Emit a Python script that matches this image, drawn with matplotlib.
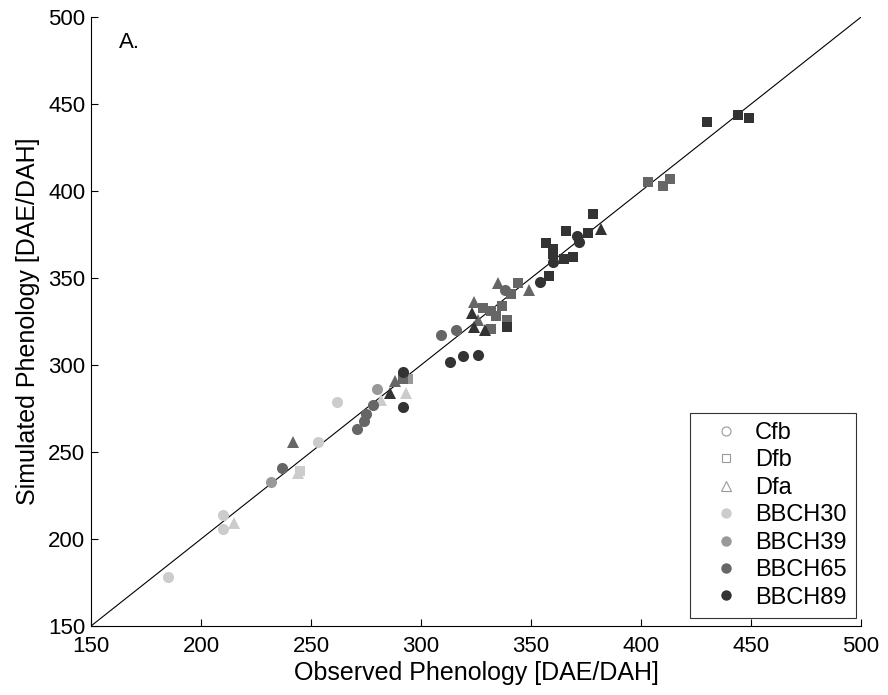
import matplotlib
matplotlib.use("Agg")
import matplotlib.pyplot as plt
from matplotlib.lines import Line2D

plt.rcParams['font.family'] = ['Liberation Sans', 'DejaVu Sans']

# growth stage colours
stage_colors = {
    "BBCH30": "#cccccc",
    "BBCH39": "#999999",
    "BBCH65": "#666666",
    "BBCH89": "#333333",
}

# observed / simulated phenology [DAE/DAH], by stage and climate (marker)
# Cfb = circle, Dfb = square, Dfa = triangle
bbch30_cfb_x = [185, 210, 210, 253, 262]
bbch30_cfb_y = [178, 214, 206, 256, 279]
bbch30_dfa_x = [215, 244, 282, 293]
bbch30_dfa_y = [209, 238, 280, 284]
bbch30_dfb_x = [245]
bbch30_dfb_y = [239]

bbch39_cfb_x = [232, 280]
bbch39_cfb_y = [233, 286]
bbch39_dfb_x = [294]
bbch39_dfb_y = [292]

bbch65_cfb_x = [237, 271, 274, 275, 278, 309, 316, 338]
bbch65_cfb_y = [241, 263, 268, 272, 277, 317, 320, 343]
bbch65_dfa_x = [242, 288, 324, 326, 335, 349]
bbch65_dfa_y = [256, 291, 336, 326, 347, 343]
bbch65_dfb_x = [292, 328, 332, 334, 337, 339, 341, 344, 332, 403, 410, 413]
bbch65_dfb_y = [292, 333, 331, 328, 334, 326, 341, 347, 321, 405, 403, 407]

bbch89_cfb_x = [292, 292, 313, 319, 326, 354, 360, 371, 372]
bbch89_cfb_y = [296, 276, 302, 305, 306, 348, 359, 374, 371]
bbch89_dfa_x = [286, 323, 324, 329, 382]
bbch89_dfa_y = [284, 330, 322, 320, 378]
bbch89_dfb_x = [339, 358, 357, 360, 360, 365, 366, 369, 376, 378, 430, 444, 449]
bbch89_dfb_y = [322, 351, 370, 367, 364, 361, 377, 362, 376, 387, 440, 444, 442]

series = [
    ("BBCH30", "o", bbch30_cfb_x, bbch30_cfb_y),
    ("BBCH30", "^", bbch30_dfa_x, bbch30_dfa_y),
    ("BBCH30", "s", bbch30_dfb_x, bbch30_dfb_y),
    ("BBCH39", "o", bbch39_cfb_x, bbch39_cfb_y),
    ("BBCH39", "s", bbch39_dfb_x, bbch39_dfb_y),
    ("BBCH65", "o", bbch65_cfb_x, bbch65_cfb_y),
    ("BBCH65", "^", bbch65_dfa_x, bbch65_dfa_y),
    ("BBCH65", "s", bbch65_dfb_x, bbch65_dfb_y),
    ("BBCH89", "o", bbch89_cfb_x, bbch89_cfb_y),
    ("BBCH89", "^", bbch89_dfa_x, bbch89_dfa_y),
    ("BBCH89", "s", bbch89_dfb_x, bbch89_dfb_y),
]
marker_size = {"o": 8, "s": 7, "^": 8.5}

fig = plt.figure(figsize=(8.88, 6.95), dpi=100)
ax = fig.add_axes([0.1025, 0.0993, 0.867, 0.876])

ax.plot([150, 500], [150, 500], color="black", lw=0.8, zorder=1)

for stage, mk, xs, ys in series:
    ax.plot(xs, ys, linestyle="none", marker=mk, ms=marker_size[mk],
            color=stage_colors[stage], markeredgewidth=0, zorder=2)

ax.set_xlim(150, 500)
ax.set_ylim(150, 500)
ax.set_xticks(range(150, 501, 50))
ax.set_yticks(range(150, 501, 50))
ax.tick_params(direction="in", length=5, labelsize=16, width=0.8)
ax.tick_params(axis="x", pad=7)
ax.tick_params(axis="y", pad=4)
ax.spines["top"].set_visible(False)
ax.spines["right"].set_visible(False)
ax.set_xlabel("Observed Phenology [DAE/DAH]", fontsize=18, labelpad=3)
ax.set_ylabel("Simulated Phenology [DAE/DAH]", fontsize=18, labelpad=6)

ax.text(0.036, 0.959, "A.", transform=ax.transAxes, fontsize=16, va="center")

# legend: climate classes (open markers) then stages (filled circles)
handles = [
    Line2D([], [], ls="none", marker="o", ms=6.5, mfc="white", mec="#999999", mew=0.8, label="Cfb"),
    Line2D([], [], ls="none", marker="s", ms=6, mfc="white", mec="#999999", mew=0.8, label="Dfb"),
    Line2D([], [], ls="none", marker="^", ms=7, mfc="white", mec="#999999", mew=0.8, label="Dfa"),
]
for stage, c in stage_colors.items():
    handles.append(Line2D([], [], ls="none", marker="o", ms=7.5, color=c, mew=0, label=stage))

leg = ax.legend(handles=handles, loc="lower right", bbox_to_anchor=(0.9935, 0.013),
                borderaxespad=0, fontsize=17, frameon=True, fancybox=False,
                labelspacing=0.23, handletextpad=0.1, borderpad=0.4, handlelength=2.25)
leg.get_frame().set_edgecolor("black")
leg.get_frame().set_linewidth(0.8)

fig.savefig("out.png", dpi=100)
